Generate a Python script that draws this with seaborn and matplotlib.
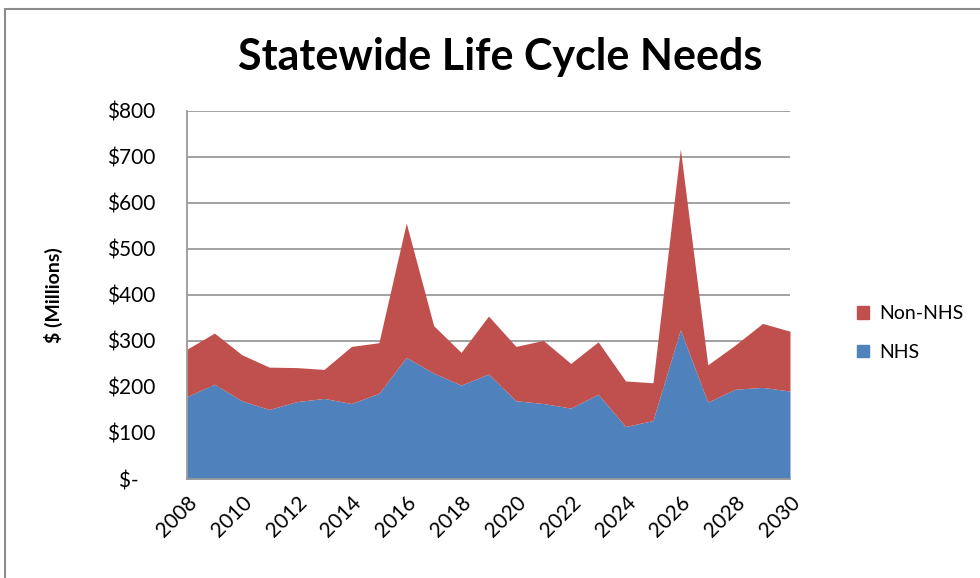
import numpy as np
import pandas as pd
import matplotlib
matplotlib.use("Agg")
import matplotlib.pyplot as plt
from matplotlib.patches import Rectangle, Patch
import seaborn as sns

# values ($ millions)
years = list(range(2008, 2031))
nhs = [179, 206, 170, 151, 168, 175, 164, 186, 264, 230, 204, 228,
       170, 164, 154, 184, 114, 127, 324, 167, 195, 199, 191]
non_nhs = [103, 111, 100, 92, 74, 63, 124, 110, 292, 103, 71, 126,
           118, 137, 97, 114, 99, 82, 393, 81, 96, 139, 130]
series = ["NHS", "Non-NHS"]
y_ticks = [0, 100, 200, 300, 400, 500, 600, 700, 800]
y_labels = ["$-   ", "$100", "$200", "$300", "$400", "$500", "$600", "$700", "$800"]
x_ticks = list(range(2008, 2031, 2))

sns.set_theme(style="white")
plt.rcParams["font.family"] = ["Lato", "DejaVu Sans"]
plt.rcParams["text.color"] = "black"
plt.rcParams["axes.labelcolor"] = "black"

df = pd.DataFrame({"year": years, "NHS": nhs, "Non-NHS": non_nhs})
palette = {"NHS": "#4F81BD", "Non-NHS": "#C0504D"}

fig = plt.figure(figsize=(9.8, 5.78), dpi=100)
ax = fig.add_axes([187 / 980, 1 - 479 / 578, (790 - 187) / 980, (479 - 110.7) / 578])

ax.stackplot(df["year"], df["NHS"], df["Non-NHS"],
             colors=[palette["NHS"], palette["Non-NHS"]], zorder=3, linewidth=0)

ax.set_xlim(2008, 2030)
ax.set_ylim(0, 800)
ax.set_yticks(y_ticks)
ax.set_yticklabels(y_labels)
ax.set_xticks(x_ticks)
ax.set_xticklabels([str(y) for y in x_ticks], rotation=45, ha="right",
                   va="top", rotation_mode="anchor")
ax.tick_params(axis="y", labelsize=15, pad=23, length=0, colors="black")
ax.tick_params(axis="x", labelsize=15, pad=10, length=0, colors="black")

ax.grid(True, axis="y", color="#9A9A9A", linewidth=1.3, zorder=0)
for side in ["top", "right"]:
    ax.spines[side].set_visible(False)
for side in ["left", "bottom"]:
    ax.spines[side].set_color("#9A9A9A")
    ax.spines[side].set_linewidth(1.3)
    ax.spines[side].set_zorder(4)

ax.set_ylabel("$ (Millions)", fontsize=14, fontweight="bold")
ax.yaxis.set_label_coords(-0.205, 0.5)

fig.text(0.51, 1 - 57 / 578, "Statewide Life Cycle Needs", ha="center",
         va="center", fontsize=31, fontweight="bold")

handles = [Patch(color=palette[s]) for s in ["Non-NHS", "NHS"]]
fig.legend(handles, ["Non-NHS", "NHS"], loc="center left",
           bbox_to_anchor=(857 / 980, 1 - 333 / 578), frameon=False,
           borderpad=0, borderaxespad=0,
           fontsize=14, handlelength=0.6, handleheight=0.6,
           handletextpad=0.55, labelspacing=1.1)

# outer chart frame
fig.patches.append(Rectangle((5 / 980, -0.1), 1.2, 1.1 - 9 / 578,
                             transform=fig.transFigure, fill=False,
                             edgecolor="#8C8C8C", linewidth=1.5))

fig.savefig("out.png", dpi=100)
